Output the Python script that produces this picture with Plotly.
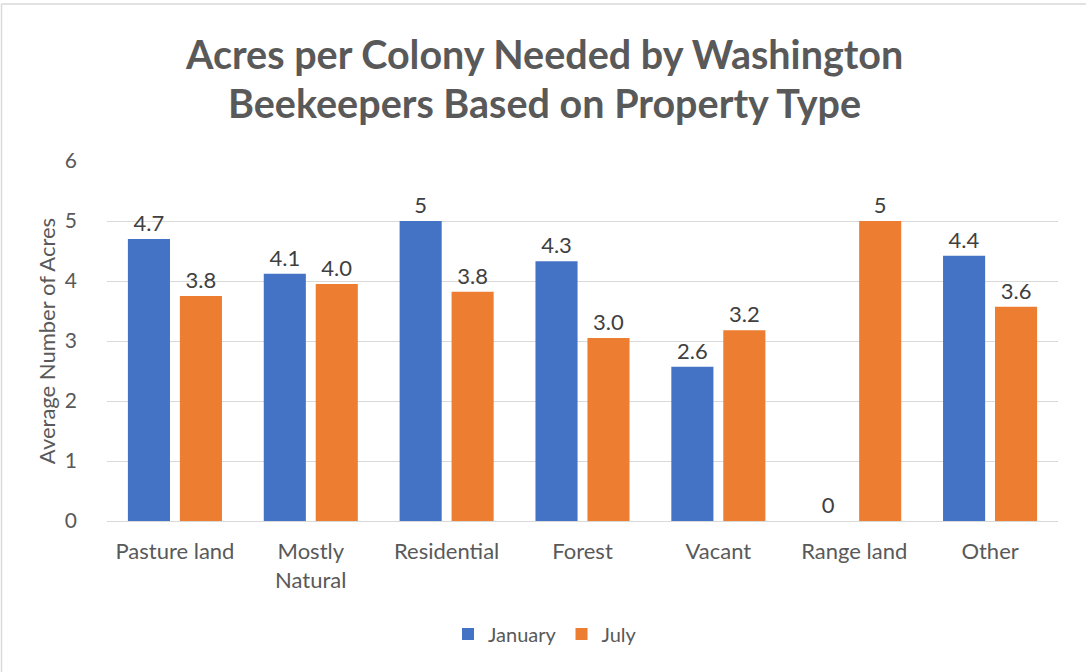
import plotly.graph_objects as go

categories = ["Pasture land", "Mostly<br>Natural", "Residential", "Forest", "Vacant", "Range land", "Other"]
january = [4.7, 4.12, 5.0, 4.33, 2.57, 0, 4.42]
july = [3.75, 3.95, 3.82, 3.05, 3.18, 5.0, 3.57]
january_labels = ["4.7", "4.1", "5", "4.3", "2.6", "0", "4.4"]
july_labels = ["3.8", "4.0", "3.8", "3.0", "3.2", "5", "3.6"]
title_lines = ["Acres per Colony Needed by Washington", "Beekeepers Based on Property Type"]

W, H = 1086, 672
ML, MR, MT, MB = 107, 28, 161, 151
FONT = "Lato, 'Open Sans', sans-serif"
GREY = "#595959"

fig = go.Figure()
fig.add_trace(go.Bar(
    name="January", x=categories, y=january, text=january_labels,
    textposition="outside", cliponaxis=False,
    marker=dict(color="#4472c4", line=dict(width=0)),
    textfont=dict(size=22, color="#404040", family=FONT),
))
fig.add_trace(go.Bar(
    name="July", x=categories, y=july, text=july_labels,
    textposition="outside", cliponaxis=False,
    marker=dict(color="#ed7d31", line=dict(width=0)),
    textfont=dict(size=22, color="#404040", family=FONT),
))

pw = W - ML - MR
ph = H - MT - MB

def px_x(x):
    return (x - ML) / pw

def px_y(y):
    return (H - MB - y) / ph

# outer chart border (left and top edges visible)
fig.add_shape(type="line", xref="paper", yref="paper",
              x0=px_x(1.5), x1=px_x(1.5), y0=px_y(672), y1=px_y(4),
              line=dict(color="#d9d9d9", width=1.5))
fig.add_shape(type="line", xref="paper", yref="paper",
              x0=px_x(1.5), x1=px_x(1086), y0=px_y(4), y1=px_y(4),
              line=dict(color="#d9d9d9", width=1.5))

for txt, yc in zip(title_lines, [54, 103]):
    fig.add_annotation(text=txt, xref="paper", yref="paper", x=px_x(544), y=px_y(yc),
                       xanchor="center", yanchor="middle", showarrow=False,
                       font=dict(size=39.5, color=GREY, family=FONT, weight="bold"))

fig.update_layout(
    width=W, height=H,
    margin=dict(l=ML, r=MR, t=MT, b=MB),
    paper_bgcolor="white", plot_bgcolor="white",
    font=dict(family=FONT, color=GREY),
    barmode="group", bargap=0.235, bargroupgap=0.19,
    showlegend=True,
    legend=dict(orientation="h", x=px_x(545), xanchor="center", y=px_y(634), yanchor="middle",
                font=dict(size=20, color=GREY, family=FONT), itemwidth=30, traceorder="normal"),
    xaxis=dict(showgrid=False, showline=True, linecolor="#d9d9d9", linewidth=1,
               tickfont=dict(size=22, color=GREY, family=FONT), ticks="", ticklabelstandoff=11),
    yaxis=dict(range=[0, 6], dtick=1, showgrid=True, gridcolor="#d9d9d9", gridwidth=1,
               zeroline=False, showline=False, ticks="", ticklabelstandoff=29,
               tickfont=dict(size=21, color=GREY, family=FONT),
               title=dict(text="Average Number of Acres", font=dict(size=22, color=GREY, family=FONT), standoff=3)),
)

fig.write_html("out.html", config={"displayModeBar": False},
               post_script="document.body.style.margin='0';")
